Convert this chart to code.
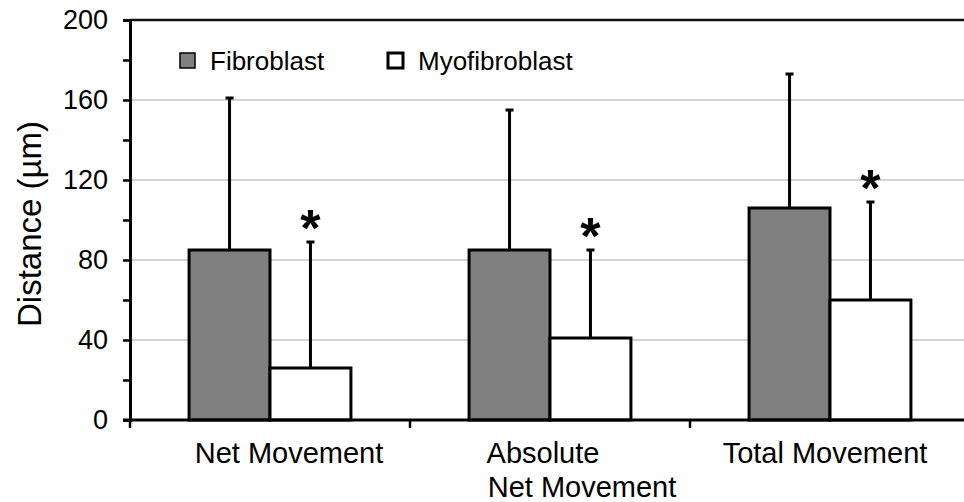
<!DOCTYPE html>
<html>
<head>
<meta charset="utf-8">
<script src="https://cdn.jsdelivr.net/npm/d3@7"></script>
<style>
  body { margin: 0; background: #fff; }
  text { font-family: "Liberation Sans", Arial, sans-serif; fill: #000; }
</style>
</head>
<body>
<div class="svgWrapper"></div>
<script>
// Data //
const categories = ["Net Movement", "Absolute Net Movement", "Total Movement"];
const categoryLines = [["Net Movement"], ["Absolute", "Net Movement"], ["Total Movement"]];
const series = ["Fibroblast", "Myofibroblast"];
const fibroblastMean = [85, 85, 106];
const fibroblastSD = [76, 70, 67];
const myofibroblastMean = [26, 41, 60];
const myofibroblastSD = [63, 44, 49];
const myofibroblastSignificant = [true, true, true];
const yTicks = [0, 40, 80, 120, 160, 200];
const yMinorTicks = [20, 60, 100, 140, 180];

// Styles //
const svgStyles = { w: 964, h: 502 };
const chartStyles = {
  left: 130,
  right: 970,
  top: 20,
  bottom: 420
};
const colors = { Fibroblast: "#808080", Myofibroblast: "#ffffff" };
// small horizontal nudges of the category label lines (as in the original layout)
const labelNudge = [[19], [-7, 32], [-5]];

const rows = [];
categories.forEach((c, i) => {
  rows.push({ cat: c, s: "Fibroblast", mean: fibroblastMean[i], sd: fibroblastSD[i], sig: false });
  rows.push({ cat: c, s: "Myofibroblast", mean: myofibroblastMean[i], sd: myofibroblastSD[i], sig: myofibroblastSignificant[i] });
});

let svg = d3
  .select(".svgWrapper")
  .append("svg")
  .attr("width", svgStyles.w)
  .attr("height", svgStyles.h);

// Scales
const x0 = d3
  .scaleBand()
  .domain(categories)
  .range([chartStyles.left, chartStyles.right]);

const x1 = d3
  .scaleBand()
  .domain(series)
  .range([0, x0.bandwidth()])
  .paddingInner(0)
  .paddingOuter(0.73);

const y = d3
  .scaleLinear()
  .domain([0, 200])
  .range([chartStyles.bottom, chartStyles.top]);

// gridlines
svg
  .append("g")
  .selectAll("line")
  .data(yTicks.filter(d => d > 0 && d < 200))
  .enter()
  .append("line")
  .attr("x1", chartStyles.left)
  .attr("x2", svgStyles.w)
  .attr("y1", d => y(d))
  .attr("y2", d => y(d))
  .attr("stroke", "#c4c4c4")
  .attr("stroke-width", 1.5);

// top border at 200
svg
  .append("line")
  .attr("x1", chartStyles.left)
  .attr("x2", svgStyles.w)
  .attr("y1", y(200))
  .attr("y2", y(200))
  .attr("stroke", "#111")
  .attr("stroke-width", 2.5);

// Y axis
const yAxis = d3
  .axisLeft(y)
  .tickValues(yTicks.concat(yMinorTicks))
  .tickSize(7)
  .tickPadding(15)
  .tickFormat(d => (yTicks.includes(d) ? d : ""));

svg
  .append("g")
  .attr("id", "y-axis")
  .attr("transform", `translate(${chartStyles.left}, 0)`)
  .call(yAxis)
  .call(g => g.select(".domain").attr("stroke-width", 3))
  .call(g => g.selectAll(".tick line").attr("stroke-width", 2.5))
  .call(g =>
    g
      .selectAll(".tick text")
      .style("font-size", "27px")
      .attr("font-family", null)
  );

// Y axis title
svg
  .append("text")
  .attr("transform", "translate(41, 224) rotate(-90)")
  .attr("text-anchor", "middle")
  .style("font-size", "33px")
  .text("Distance (\u00b5m)");

// bars
const groups = svg
  .append("g")
  .selectAll("g")
  .data(rows)
  .enter()
  .append("g")
  .attr("transform", d => `translate(${x0(d.cat) + x1(d.s)}, 0)`);

// error bars (drawn under the bars)
groups
  .append("line")
  .attr("x1", x1.bandwidth() / 2)
  .attr("x2", x1.bandwidth() / 2)
  .attr("y1", d => y(d.mean))
  .attr("y2", d => y(d.mean + d.sd))
  .attr("stroke", "#000")
  .attr("stroke-width", 3);

groups
  .append("line")
  .attr("x1", x1.bandwidth() / 2 - 4)
  .attr("x2", x1.bandwidth() / 2 + 4)
  .attr("y1", d => y(d.mean + d.sd))
  .attr("y2", d => y(d.mean + d.sd))
  .attr("stroke", "#000")
  .attr("stroke-width", 3);

groups
  .append("rect")
  .attr("x", 0)
  .attr("y", d => y(d.mean))
  .attr("width", x1.bandwidth())
  .attr("height", d => y(0) - y(d.mean))
  .attr("fill", d => colors[d.s])
  .attr("stroke", "#000")
  .attr("stroke-width", 3);

// significance stars
groups
  .filter(d => d.sig)
  .append("text")
  .attr("x", x1.bandwidth() / 2)
  .attr("y", d => y(d.mean + d.sd) + 4)
  .attr("text-anchor", "middle")
  .style("font-size", "52px")
  .style("font-weight", "bold")
  .text("*");

// X axis
const xAxis = d3
  .axisBottom(x0)
  .tickValues([])
  .tickSizeOuter(0);

const xg = svg
  .append("g")
  .attr("id", "x-axis")
  .attr("transform", `translate(0, ${chartStyles.bottom})`)
  .call(xAxis)
  .call(g => g.select(".domain").attr("stroke-width", 3).attr("d", `M${chartStyles.left - 7},0H${svgStyles.w}`));

// boundary ticks between categories
xg.selectAll(".sep")
  .data(categories)
  .enter()
  .append("line")
  .attr("class", "sep")
  .attr("x1", d => x0(d))
  .attr("x2", d => x0(d))
  .attr("y1", 0)
  .attr("y2", 8)
  .attr("stroke", "#000")
  .attr("stroke-width", 2.5);

// category labels
const labels = xg
  .selectAll(".cat-label")
  .data(categories)
  .enter()
  .append("text")
  .attr("class", "cat-label")
  .attr("x", d => x0(d) + x0.bandwidth() / 2)
  .attr("y", 43)
  .attr("text-anchor", "middle")
  .style("font-size", "29px");

labels
  .selectAll("tspan")
  .data((d, i) => categoryLines[i].map((t, j) => ({ t, nudge: labelNudge[i][j] })))
  .enter()
  .append("tspan")
  .attr("x", function(d) { return +this.parentNode.getAttribute("x") + d.nudge; })
  .attr("dy", (d, i) => (i === 0 ? 0 : 34))
  .text(d => d.t);

// legend
const legend = svg
  .append("g")
  .attr("id", "legend")
  .attr("transform", "translate(180, 53)");

const legendItems = legend
  .selectAll("g")
  .data(series)
  .enter()
  .append("g")
  .attr("transform", (d, i) => `translate(${i * 208}, 0)`);

legendItems
  .append("rect")
  .attr("width", 15)
  .attr("height", 15)
  .attr("fill", d => colors[d])
  .attr("stroke", "#000")
  .attr("stroke-width", d => (d === "Fibroblast" ? 1.5 : 3));

legendItems
  .append("text")
  .attr("x", 30)
  .attr("y", 17)
  .style("font-size", "26px")
  .text(d => d);
</script>
</body>
</html>
